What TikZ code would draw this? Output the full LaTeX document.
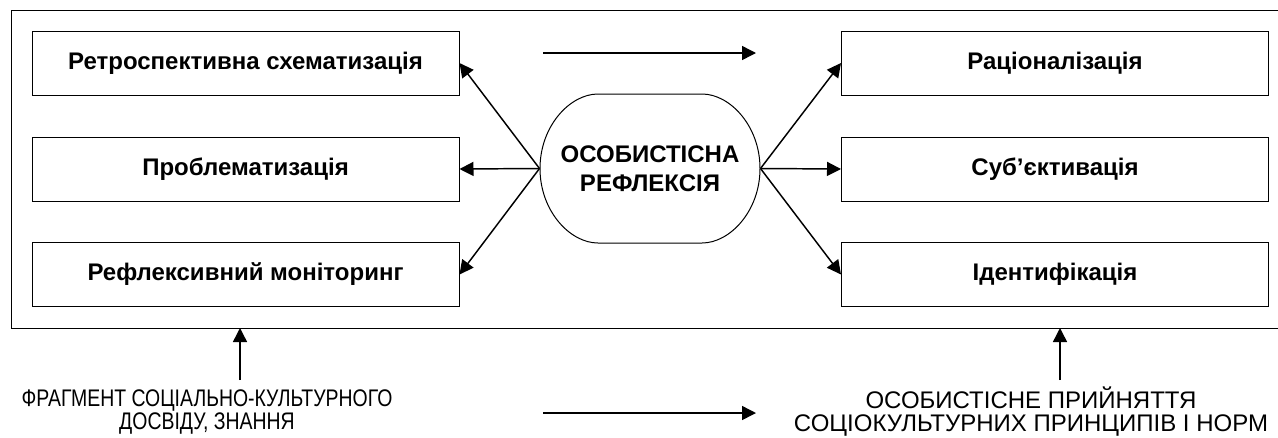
\documentclass[tikz,border=0pt]{standalone}
\usepackage{fontspec}
\setmainfont{Liberation Sans}
\newfontfamily\narrowsans[FakeStretch=0.81]{Liberation Sans}
\usetikzlibrary{arrows.meta}

\tikzset{every picture/.style={line width=0.75pt}}
\tikzset{
	stage/.style={draw, minimum width=320.25pt, minimum height=48pt, inner sep=0.75pt, font=\fontsize{18}{20}\selectfont\bfseries},
	flow/.style={line width=1.1pt, -{Triangle[length=10.5pt,width=10.5pt]}},
	caption/.style={inner sep=0.75pt, align=center, font=\fontsize{18}{17.25}\selectfont}
}

\begin{document}
\begin{tikzpicture}[x=0.75pt,y=0.75pt,yscale=-1,xscale=1]
		\useasboundingbox (0,0) rectangle (1278,437);
		
		%outer frame
		\draw   (11,10) rectangle (1280,328) ;
		
		%left column
		\node [stage] (retro) at (245.5,63) {Ретроспективна схематизація};
		\node [stage] (probl) at (245.5,169) {Проблематизація};
		\node [stage] (monit) at (245.5,274.5) {Рефлексивний моніторинг};
		%right column
		\node [stage] (ratio) at (1055,63) {Раціоналізація};
		\node [stage] (subj) at (1055,169) {Суб’єктивація};
		\node [stage] (ident) at (1055,274.5) {Ідентифікація};
		
		%centre
		\node [minimum width=165pt, minimum height=111.75pt, inner sep=0pt, align=center, font=\fontsize{18}{21.75}\selectfont\bfseries] (refl) at (650,168.5) {ОСОБИСТІСНА\\РЕФЛЕКСІЯ};
		%Shape: Rounded Rect
		\draw   (598,94) -- (702,94) .. controls (730,94) and (760,126) .. (760,168.5) .. controls (760,211) and (730,243) .. (702,243) -- (598,243) .. controls (570,243) and (540,211) .. (540,168.5) .. controls (540,126) and (570,94) .. (598,94) -- cycle ;
		
		\draw [flow] (refl.west) -- (retro.east) ;
		\draw [flow] (refl.west) -- (probl.east) ;
		\draw [flow] (refl.west) -- (monit.east) ;
		\draw [flow] (refl.east) -- (ratio.west) ;
		\draw [flow] (refl.east) -- (subj.west) ;
		\draw [flow] (refl.east) -- (ident.west) ;
		
		\coordinate (ta) at (543,53) ;
		\coordinate (tb) at (756,53) ;
		\draw [flow] (ta) -- (tb) ;
		
		%bottom captions
		\node [caption, font=\fontsize{18}{17.25}\narrowsans] (exper) at (207,412) {ФРАГМЕНТ СОЦІАЛЬНО-КУЛЬТУРНОГО\\ДОСВІДУ, ЗНАННЯ};
		\node [caption] (norms) at (1031,412) {ОСОБИСТІСНЕ ПРИЙНЯТТЯ\\СОЦІОКУЛЬТУРНИХ ПРИНЦИПІВ І НОРМ};
		
		\coordinate (la) at (240,380) ;
		\coordinate (lb) at (240,328) ;
		\coordinate (ra) at (1060,380) ;
		\coordinate (rb) at (1060,328) ;
		\draw [flow] (la) -- (lb) ;
		\draw [flow] (ra) -- (rb) ;
		
		\coordinate (ba) at (543,413) ;
		\coordinate (bb) at (756,413) ;
		\draw [flow] (ba) -- (bb) ;
		
	\end{tikzpicture}
\end{document}
